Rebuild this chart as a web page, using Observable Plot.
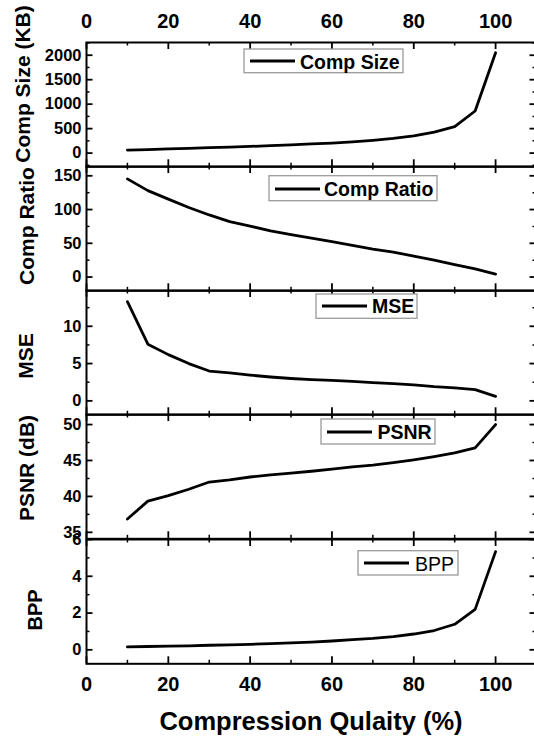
<!DOCTYPE html>
<html><head><meta charset="utf-8">
<script src="https://cdn.jsdelivr.net/npm/d3@7"></script>
<script src="https://cdn.jsdelivr.net/npm/@observablehq/plot@0.6"></script>
<style>
html,body{margin:0;padding:0;background:#fff;overflow:hidden;}
#chart{position:relative;width:534px;height:738px;overflow:hidden;font-family:"Liberation Sans",Arial,sans-serif;}
#chart svg{position:absolute;left:0;overflow:visible;}
</style></head>
<body><div id="chart"></div>
<script>
// ---- data ----
const quality   = [10,15,20,25,30,35,40,45,50,55,60,65,70,75,80,85,90,95,100];
const compSize  = [62,72,85,98,110,122,136,152,170,188,205,230,262,300,350,430,540,860,2050];
const compRatio = [145.5,128,115.5,103,92,82,75.5,68.5,63,57.5,52.5,47,41.5,37,31,25,18.5,12,4.4];
const mse       = [13.3,7.6,6.2,5.0,4.0,3.75,3.45,3.2,3.0,2.85,2.75,2.6,2.45,2.3,2.15,1.9,1.75,1.5,0.6];
const psnr      = [36.85,39.35,40.1,41.0,42.0,42.3,42.7,43.0,43.25,43.5,43.8,44.1,44.35,44.7,45.1,45.55,46.05,46.75,50.0];
const bpp       = [0.16,0.18,0.2,0.22,0.25,0.27,0.3,0.34,0.38,0.42,0.48,0.55,0.62,0.72,0.86,1.05,1.39,2.2,5.34];

const xTicks = [0,20,40,60,80,100];
const xMinor = [10,30,50,70,90,110];
const xTitle = "Compression Qulaity (%)";

const titles  = ["Comp Size (KB)","Comp Ratio","MSE","PSNR (dB)","BPP"];
const legends = ["Comp Size","Comp Ratio","MSE","PSNR","BPP"];
const series  = [compSize, compRatio, mse, psnr, bpp];
const yDomains = [[-280,2260],[-20.4,163.8],[-1.87,14.8],[34.1,51.4],[-0.76,6.0]];
const yTicks  = [[0,500,1000,1500,2000],[0,50,100,150],[0,5,10],[35,40,45,50],[0,2,4,6]];
const yMinor  = [[-250,250,750,1250,1750,2250],[25,75,125],[2.5,7.5,12.5],[37.5,42.5,47.5],[1,3,5]];

// ---- layout ----
const W = 536, ML = 86, PAD = 30;
const panelTops = [41.5,165.8,290.1,414.4,538.7];
const PH = 124.3;
const innerW = W - ML;

const chart = document.getElementById("chart");
const font = "Liberation Sans, Arial, sans-serif";

series.forEach((vals, i) => {
  const data = quality.map((q, j) => ({q, v: vals[j]}));
  const minor = yMinor[i].filter(v => v > yDomains[i][0] && v < yDomains[i][1]);
  const marks = [
    Plot.frame({stroke: "black", strokeWidth: 2}),
    Plot.ruleX(xTicks, {x: d => d, insetBottom: PH - 7, strokeWidth: 1.8}),
    Plot.ruleX(xTicks, {x: d => d, insetTop: PH - 7, strokeWidth: 1.8}),
    Plot.ruleX(xMinor, {x: d => d, insetBottom: PH - 3.5, strokeWidth: 1.5}),
    Plot.ruleX(xMinor, {x: d => d, insetTop: PH - 3.5, strokeWidth: 1.5}),
    Plot.ruleY(yTicks[i], {y: d => d, insetRight: innerW - 6.5, strokeWidth: 1.8}),
    Plot.ruleY(yTicks[i], {y: d => d, insetLeft: innerW - 6.5, strokeWidth: 1.8}),
    Plot.ruleY(minor, {y: d => d, insetRight: innerW - 3.5, strokeWidth: 1.5}),
    Plot.ruleY(minor, {y: d => d, insetLeft: innerW - 3.5, strokeWidth: 1.5}),
    Plot.axisY({anchor: "left", ticks: yTicks[i], tickSize: 0, tickPadding: 5, tickFormat: d => String(d),
      fontSize: 16.5, fontWeight: "bold", fontFamily: font, fill: "black", label: null}),
    Plot.line(data, {x: "q", y: "v", stroke: "black", strokeWidth: 2.8, strokeLinejoin: "round"})
  ];
  if (i === 0) marks.push(Plot.axisX({anchor: "top", ticks: xTicks, tickSize: 0, tickPadding: 14.5, tickFormat: d => String(d),
      fontSize: 20, fontWeight: "bold", fontFamily: font, fill: "black", label: null}));
  else if (i === 4) marks.push(Plot.axisX({anchor: "bottom", ticks: xTicks, tickSize: 0, tickPadding: 12.5, tickFormat: d => String(d),
      fontSize: 20, fontWeight: "bold", fontFamily: font, fill: "black", label: null}));
  else marks.push(Plot.axisX({anchor: "bottom", ticks: [], label: null}));

  const svg = Plot.plot({
    width: W, height: PH + 2 * PAD,
    marginLeft: ML, marginRight: 0, marginTop: PAD, marginBottom: PAD,
    x: {domain: [0, 110]},
    y: {domain: yDomains[i]},
    style: {background: "transparent", overflow: "visible", maxWidth: "none", fontFamily: font},
    marks
  });
  svg.style.top = (panelTops[i] - PAD) + "px";
  chart.appendChild(svg);
});

// ---- overlay: axis titles & legends ----
const ov = d3.select(chart).append("svg")
  .attr("width", 534).attr("height", 738)
  .style("top", "0px").style("font-family", font);

const titlePos = [[30,84,21],[34,226,21],[33,356,21],[34,468,21],[42,610,20]];
titles.forEach((t, i) => {
  const [x, y, fs] = titlePos[i];
  ov.append("text").attr("transform", `translate(${x},${y}) rotate(-90)`)
    .attr("text-anchor", "middle").attr("font-size", fs).attr("font-weight", "bold").text(t);
});
ov.append("text").attr("x", 311).attr("y", 730).attr("text-anchor", "middle")
  .attr("font-size", 25.5).attr("font-weight", "bold").text(xTitle);

const legendBoxes = [
  {x0:244,y0:49,x1:403,y1:72.7,l0:250,l1:295,ly:61,tx:300,ty:69,w:"bold"},
  {x0:269,y0:175.7,x1:437,y1:200.7,l0:275,l1:320,ly:189,tx:324,ty:196,w:"bold"},
  {x0:316,y0:294,x1:417,y1:318.3,l0:322,l1:367,ly:306,tx:372,ty:313,w:"bold"},
  {x0:321,y0:419,x1:435,y1:444,l0:327,l1:372,ly:432,tx:377.5,ty:439,w:"bold"},
  {x0:358,y0:550.7,x1:458,y1:575,l0:364,l1:409,ly:563,tx:415,ty:570.5,w:"normal"}
];
legendBoxes.forEach((b, i) => {
  ov.append("rect").attr("x", b.x0).attr("y", b.y0).attr("width", b.x1 - b.x0).attr("height", b.y1 - b.y0)
    .attr("fill", "white").attr("stroke", "#9a9a9a").attr("stroke-width", 1.3);
  ov.append("line").attr("x1", b.l0).attr("x2", b.l1).attr("y1", b.ly).attr("y2", b.ly)
    .attr("stroke", "black").attr("stroke-width", 3);
  ov.append("text").attr("x", b.tx).attr("y", b.ty).attr("font-size", 19.5)
    .attr("font-weight", b.w).text(legends[i]);
});
</script>
</body></html>
